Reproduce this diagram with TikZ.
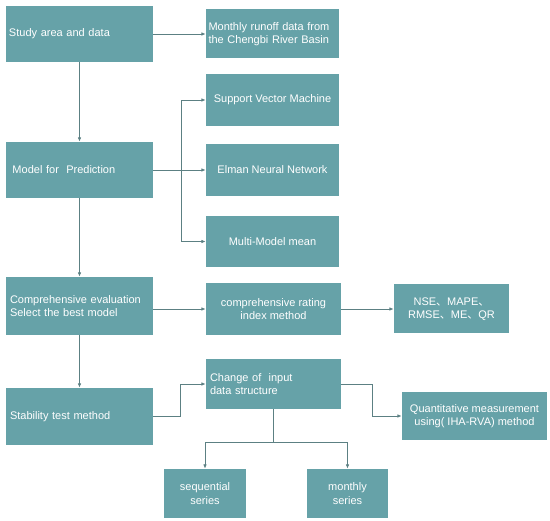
\documentclass[tikz,border=0pt]{standalone}
\usepackage{fontspec}
\setmainfont{Liberation Sans}
\newfontfamily\cjk{Noto Sans CJK SC}
\newcommand{\dun}{{\cjk 、}}
\usetikzlibrary{arrows.meta}
\definecolor{boxteal}{RGB}{102,162,168}
\definecolor{linegray}{RGB}{92,128,131}

\begin{document}
\begin{tikzpicture}[x=1pt,y=-1pt,font=\fontsize{11}{13.5}\selectfont,box/.style={fill=boxteal,text=white,inner sep=0pt,align=center},lbox/.style={box,align=left},arr/.style={draw=linegray,line width=0.9pt,-{Latex[length=4.5pt,width=3.6pt]}},ln/.style={draw=linegray,line width=0.9pt}]
\useasboundingbox (0,0) rectangle (550,521);
% left column
\node[lbox,inner xsep=3pt,text width=141pt,minimum height=56pt] (study) at (79.5,34){Study area and data};
\node[lbox,inner xsep=6.5pt,text width=134pt,minimum height=56pt] (model) at (79.5,170){Model for~ Prediction};
\node[lbox,inner xsep=4pt,text width=139pt,minimum height=58pt] (comp) at (79.5,306){Comprehensive evaluation\\Select the best model};
\node[lbox,inner xsep=4pt,text width=139pt,minimum height=57pt] (stab) at (79.5,416.5){Stability test method};
% middle column
\node[lbox,inner xsep=2.5pt,text width=128pt,minimum height=49pt] (runoff) at (272.5,34){Monthly runoff data from\\the Chengbi River Basin};
\node[box,minimum width=133pt,minimum height=52pt] (svm) at (272.5,100){Support Vector Machine};
\node[box,minimum width=133pt,minimum height=52pt] (elman) at (272.5,170){Elman Neural Network};
\node[box,minimum width=133pt,minimum height=51pt] (mmm) at (272.5,241.5){Multi-Model mean};
\node[box,minimum width=135pt,minimum height=52pt] (rating) at (273.5,309){comprehensive rating\\index method};
\node[lbox,inner xsep=4pt,text width=127pt,minimum height=50pt] (change) at (273.5,384){Change of~ input\\data structure};
% right column
\node[box,minimum width=115pt,minimum height=49pt] (nse) at (451.5,309){NSE\dun MAPE\dun\\RMSE\dun ME\dun QR};
\node[box,minimum width=145pt,minimum height=48pt] (quant) at (474.5,416){Quantitative measurement\\using( IHA-RVA) method};
% bottom row
\node[box,minimum width=82pt,minimum height=49pt] (seq) at (205,493.5){sequential\\series};
\node[box,minimum width=81pt,minimum height=49pt] (monthly) at (347.5,493.5){monthly\\series};
\coordinate (fork) at (181,170);
\coordinate (split) at (273.5,442);
\draw[arr] (study) -- (runoff);\draw[arr] (study) -- (model);\draw[arr] (model) -- (elman);\draw[arr] (fork) |- (svm);\draw[arr] (fork) |- (mmm);
\draw[arr] (model) -- (comp);\draw[arr] (comp.east |- rating.west) -- (rating.west);\draw[arr] (rating) -- (nse);\draw[arr] (comp) -- (stab);
\draw[arr] (stab.east) -- ++(27,0) |- (change.west);\draw[arr] (change.east) -- ++(31,0) |- (quant.west);
\draw[ln] (change.south) -- (split);\draw[arr] (split) -| (seq.north);\draw[arr] (split) -| (monthly.north);
\end{tikzpicture}
\end{document}
